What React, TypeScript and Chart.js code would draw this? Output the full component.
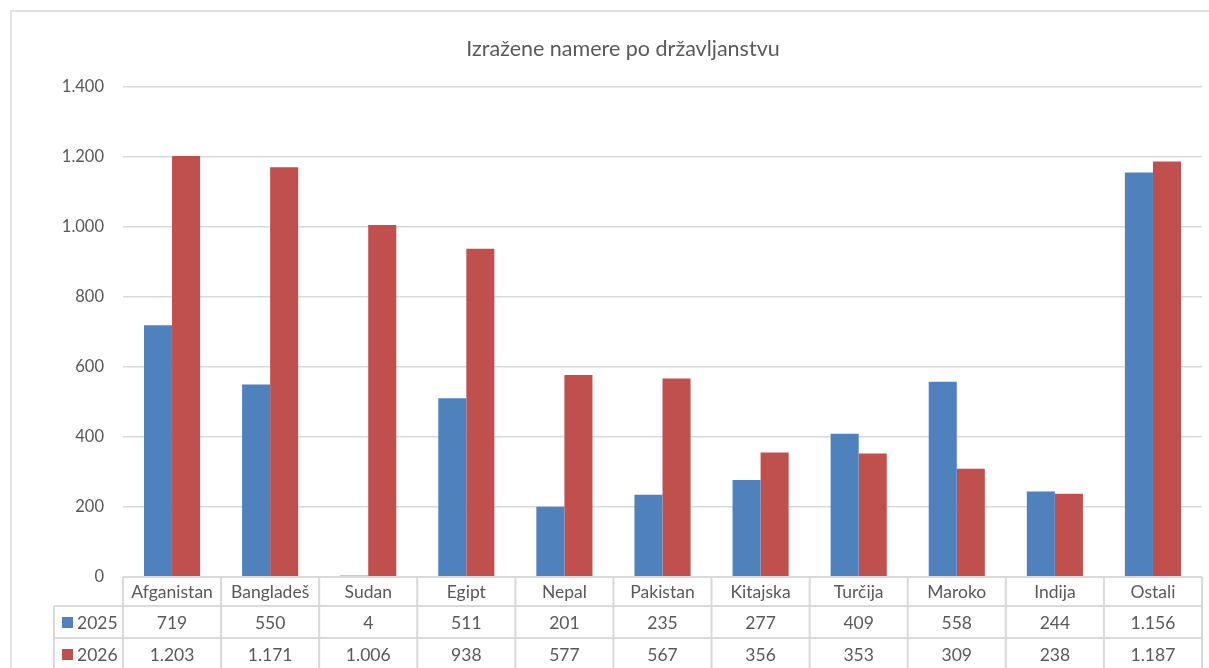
import React, { useEffect, useRef } from "react";
import { Chart, registerables } from "chart.js";

Chart.register(...registerables);

const categories = ["Afganistan", "Bangladeš", "Sudan", "Egipt", "Nepal", "Pakistan", "Kitajska", "Turčija", "Maroko", "Indija", "Ostali"];
const series2025 = [719, 550, 4, 511, 201, 235, 277, 409, 558, 244, 1156];
const series2026 = [1203, 1171, 1006, 938, 577, 567, 356, 353, 309, 238, 1187];
const seriesNames = ["2025", "2026"];
const seriesColors = ["#4f81bd", "#c0504d"];
const title = "Izražene namere po državljanstvu";
const yMax = 1400;
const yStep = 200;

const fmt = (v: number) => String(Math.round(v)).replace(/\B(?=(\d{3})+(?!\d))/g, ".");

const FONT = "Lato, 'Noto Sans', sans-serif";
const TEXT = "#595959";
const LINE = "#d9d9d9";

const tablePlugin = {
  id: "dataTable",
  afterDraw(chart: any) {
    const ctx = chart.ctx;
    const area = chart.chartArea;
    const x = chart.scales.x;
    const n = categories.length;
    const colW = (area.right - area.left) / n;
    const top = area.bottom;
    const r1 = top + 29;
    const r2 = r1 + 32;
    const bottom = chart.height + 5;
    const legendLeft = 54;
    ctx.save();
    // outer chart border
    ctx.strokeStyle = LINE;
    ctx.lineWidth = 1.5;
    ctx.beginPath();
    ctx.moveTo(11, chart.height + 5);
    ctx.lineTo(11, 11);
    ctx.lineTo(chart.width + 5, 11);
    ctx.stroke();
    // title
    ctx.fillStyle = TEXT;
    ctx.font = `21.5px ${FONT}`;
    ctx.textAlign = "center";
    ctx.textBaseline = "middle";
    ctx.fillText(title, 623, 49);
    // table lines
    ctx.strokeStyle = LINE;
    ctx.lineWidth = 2;
    ctx.beginPath();
    ctx.moveTo(area.left, top);
    ctx.lineTo(area.right, top);
    ctx.moveTo(legendLeft, r1);
    ctx.lineTo(area.right, r1);
    ctx.moveTo(legendLeft, r2);
    ctx.lineTo(area.right, r2);
    ctx.moveTo(legendLeft, r1);
    ctx.lineTo(legendLeft, bottom);
    for (let i = 0; i <= n; i++) {
      const lx = area.left + i * colW;
      ctx.moveTo(lx, top);
      ctx.lineTo(lx, bottom);
    }
    ctx.stroke();
    // text
    ctx.font = `17.5px ${FONT}`;
    ctx.fillStyle = TEXT;
    ctx.textAlign = "center";
    ctx.textBaseline = "middle";
    const rowsY = [(top + r1) / 2 + 1, (r1 + r2) / 2 + 1, r2 + 17];
    const rows = [series2025, series2026];
    for (let i = 0; i < n; i++) {
      const cx = x.getPixelForValue(i);
      ctx.fillText(categories[i], cx, rowsY[0]);
      ctx.fillText(fmt(rows[0][i]), cx, rowsY[1]);
      ctx.fillText(fmt(rows[1][i]), cx, rowsY[2]);
    }
    // legend keys
    ctx.textAlign = "left";
    for (let s = 0; s < 2; s++) {
      const cy = rowsY[s + 1];
      ctx.fillStyle = seriesColors[s];
      ctx.fillRect(62, cy - 6, 11, 11);
      ctx.fillStyle = TEXT;
      ctx.fillText(seriesNames[s], 77, cy);
    }
    ctx.restore();
  },
};

export default function App() {
  const ref = useRef<HTMLCanvasElement>(null);
  useEffect(() => {
    document.body.style.margin = "0";
    const chart = new Chart(ref.current!, {
      type: "bar",
      data: {
        labels: categories,
        datasets: [
          { label: seriesNames[0], data: series2025, backgroundColor: seriesColors[0], categoryPercentage: 0.572, barPercentage: 1 },
          { label: seriesNames[1], data: series2026, backgroundColor: seriesColors[1], categoryPercentage: 0.572, barPercentage: 1 },
        ],
      },
      options: {
        animation: false,
        responsive: false,
        layout: { padding: { left: 0, right: 7, top: 87, bottom: 91 } },
        plugins: { legend: { display: false }, title: { display: false }, tooltip: { enabled: false } },
        scales: {
          x: { display: false },
          y: {
            min: 0,
            max: yMax,
            afterFit: (s: any) => { s.width = 123; },
            border: { display: false },
            grid: { color: LINE, lineWidth: 1.5, drawTicks: false },
            ticks: {
              stepSize: yStep,
              padding: 19,
              color: TEXT,
              font: { family: FONT, size: 16.5 },
              callback: (v: any) => fmt(Number(v)),
            },
          },
        },
      },
      plugins: [tablePlugin],
    });
    return () => chart.destroy();
  }, []);
  return (
    <div style={{ position: "absolute", left: 0, top: 0, width: 1209, height: 668, background: "#fff" }}>
      <canvas ref={ref} width={1209} height={668} style={{ width: 1209, height: 668, display: "block" }} />
    </div>
  );
}
